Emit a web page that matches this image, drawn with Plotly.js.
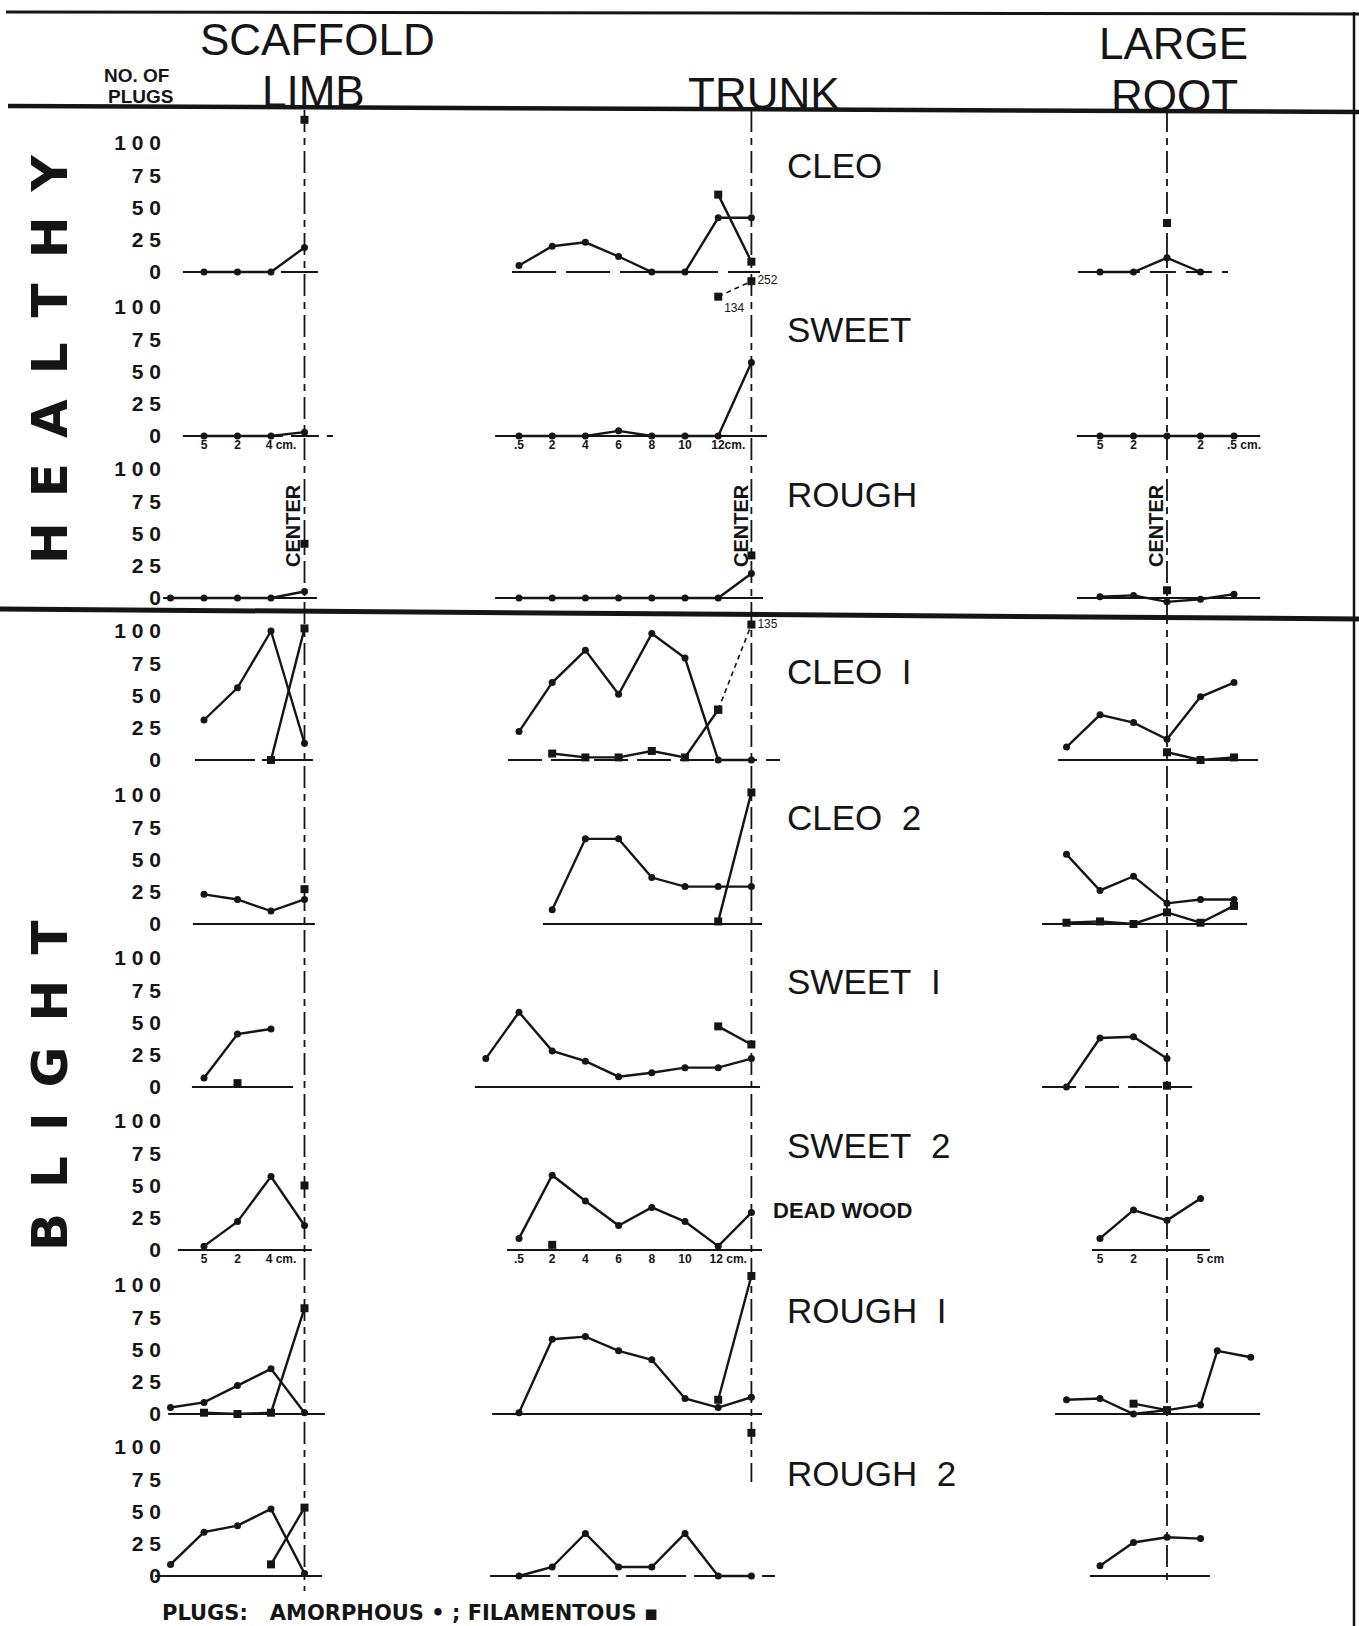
<!DOCTYPE html>
<html><head><meta charset="utf-8">
<script src="https://cdn.plot.ly/plotly-3.0.1.min.js"></script>
<style>html,body{margin:0;padding:0;background:#fff}#chart{width:1359px;height:1626px}</style>
</head><body><div id="chart"></div>
<script>
// ================= DATA =================
const columnTitles = ['SCAFFOLD', 'LIMB', 'TRUNK', 'LARGE', 'ROOT'];
const rowNames = ['CLEO', 'SWEET', 'ROUGH', 'CLEO I', 'CLEO 2', 'SWEET I', 'SWEET 2', 'ROUGH I', 'ROUGH 2'];
const groupNames = ['HEALTHY', 'BLIGHT'];
const yTickVals = [0, 25, 50, 75, 100];
const yTickText = ['0', '2 5', '5 0', '7 5', '1 0 0'];

// Sampling stations (index along each axis). Limb: 0=.5, 1=2, 2=4 cm, 3=centre.
// Trunk: 0=.5 ... 6=12 cm, 7=centre.  Root: 0=centre, negative/positive = either side.
const limbAmorX = [[0,1,2,3],[0,1,2,3],[-1,0,1,2,3],[0,1,2,3],[0,1,2,3],[0,1,2],[0,1,2,3],[-1,0,1,2,3],[-1,0,1,2,3]];
const limbAmorY = [[0,0,0,19],[0,0,0,3],[0,0,0,0,5],[31,56,100,13],[23,19,10,19],[7,41,45],[3,22,57,19],[5,9,22,35,1],[9,34,39,52,2]];
const limbFilX = [[3],[],[3],[2,3],[3],[1],[3],[0,1,2,3],[2,3]];
const limbFilY = [[118],[],[42],[0,102],[27],[3],[50],[1,0,1,82],[9,53]];

const trunkAmorX = [[0,1,2,3,4,5,6,7],[0,1,2,3,4,5,6,7],[0,1,2,3,4,5,6,7],[0,1,2,3,4,5,6,7],[1,2,3,4,5,6,7],[-1,0,1,2,3,4,5,6,7],[0,1,2,3,4,5,6,7],[0,1,2,3,4,5,6,7],[0,1,2,3,4,5,6,7]];
const trunkAmorY = [[5,20,23,12,0,0,42,42],[0,0,0,4,0,0,0,57],[0,0,0,0,0,0,0,19],[22,60,85,51,98,79,0,0],[11,66,66,36,29,29,29],[22,58,28,20,8,11,15,15,22],[9,58,38,19,33,22,3,29],[1,58,60,49,42,12,5,13],[0,7,33,7,7,33,0,0]];
const trunkFilX = [[6,7],[],[7],[1,2,3,4,5,6],[6,7],[6,7],[1],[6,7],[7]];
const trunkFilY = [[60,8],[],[33],[5,2,2,7,2,39],[2,102],[47,33],[4],[11,107],[111]];
// counts beyond the scale: drawn above the panel, joined by a dashed line, count written beside
const trunkOffX = [[],[6,7],[],[6,7],[],[],[],[],[]];
const trunkOffY = [[],[108,120],[],[39,105],[],[],[],[],[]];
const trunkOffLabel = [[],['134','252'],[],['','135'],[],[],[],[],[]];

const rootAmorX = [[-2,-1,0,1],[-2,-1,0,1,2],[-2,-1,0,1,2],[-3,-2,-1,0,1,2],[-3,-2,-1,0,1,2],[-3,-2,-1,0],[-2,-1,0,1],[-3,-2,-1,0,1,1.5,2.5],[-2,-1,0,1]];
const rootAmorY = [[0,0,11,0],[0,0,0,0,0],[1,2,-3,-1,3],[10,35,29,16,49,60],[54,26,37,16,19,19],[0,38,39,22],[9,31,23,40],[11,12,0,3,7,49,44],[8,26,30,29]];
const rootFilX = [[0],[],[0],[0,1,2],[-3,-2,-1,0,1,2],[0],[],[-1,0],[]];
const rootFilY = [[38],[],[6],[6,0,2],[1,2,0,9,1,14],[1],[],[8,3],[]];

// x tick labels (only under the SWEET and SWEET 2 rows)
const limbTickVals = [0,1,2];
const limbTickText = ['5','2','4 cm.'];
const trunkTickVals = [0,1,2,3,4,5,6];
const trunkTickText1 = ['.5','2','4','6','8','10','12cm.'];
const trunkTickText2 = ['.5','2','4','6','8','10','12 cm.'];
const rootTickVals1 = [-2,-1,1,2];
const rootTickText1 = ['5','2','2','.5 cm.'];
const rootTickVals2 = [-2,-1,1];
const rootTickText2 = ['5','2','5 cm'];

// ================= LAYOUT / STYLE =================
const W = 1359, H = 1626;
const X = p => p / W, Y = p => 1 - p / H;
const INK = '#151515';
const ROW_ZERO = [272, 436, 598, 760, 924, 1087, 1250, 1414, 1576];
const UNIT = 1.29, ABOVE = 162, BELOW = 30;
const COL = [
  {d0: 150, d1: 340, c0: 204, step: 33.5, center: 3, lineEnd: 1591},
  {d0: 470, d1: 790, c0: 519, step: 33.2, center: 7, lineEnd: 1482},
  {d0: 1030, d1: 1290, c0: 1167, step: 33.5, center: 0, lineEnd: 1582}
];
const BASE = [
  [[-0.63,3.4],[-0.63,3.85],[-1.22,3.37],[-0.27,3.25],[-0.33,3.31],[-0.36,2.66],[-0.78,3.22],[-1.07,3.61],[-1.46,3.52]],
  [[-0.21,7.26],[-0.72,7.47],[-0.72,7.35],[-0.33,7.86],[0.72,7.32],[-1.33,7.26],[-0.36,7.32],[-0.81,7.32],[-0.87,7.71]],
  [[-2.66,1.82],[-2.69,2.78],[-2.69,2.78],[-3.25,2.72],[-3.73,2.39],[-3.73,0.75],[-2.24,1.28],[-3.34,2.78],[-2.3,1.28]]
];
const BASE_DASH = [
  ['40px,9px','28px,8px','solid','60px,7px','solid','solid','solid','solid','solid'],
  ['44px,10px','solid','solid','34px,9px','solid','solid','solid','solid','60px,8px'],
  ['26px,10px','solid','solid','solid','solid','34px,9px','solid','solid','solid']
];
const FONT = 'Liberation Sans, Arial, sans-serif';
const HEAVY = 'DejaVu Sans, Liberation Sans, sans-serif';
const PAD_CM = '\u2007\u2007\u2007';   // keeps the number centred on its station when "cm." follows

const layout = {
  width: W, height: H, margin: {l: 0, r: 0, t: 0, b: 0},
  paper_bgcolor: '#ffffff', plot_bgcolor: 'rgba(0,0,0,0)', showlegend: false,
  font: {family: FONT, color: INK}, shapes: [], annotations: [], hovermode: false
};
const traces = [];
const axId = (r, c) => r * 3 + c + 1;
const xName = n => n === 1 ? 'x' : 'x' + n;
const yName = r => r === 0 ? 'y' : 'y' + (r + 1);
const xKey = n => n === 1 ? 'xaxis' : 'xaxis' + n;
const yKey = r => r === 0 ? 'yaxis' : 'yaxis' + (r + 1);
const padCm = arr => arr.map(t => /cm/.test(t) ? PAD_CM + t : t);

const tickRows = {
  1: [[limbTickVals, padCm(limbTickText)], [trunkTickVals, padCm(trunkTickText1)], [rootTickVals1, padCm(rootTickText1)]],
  6: [[limbTickVals, padCm(limbTickText)], [trunkTickVals, padCm(trunkTickText2)], [rootTickVals2, padCm(rootTickText2)]]
};

for (let r = 0; r < 9; r++) {
  const z = ROW_ZERO[r];
  layout[yKey(r)] = {
    domain: [Y(z + BELOW), Y(z - ABOVE)], range: [-BELOW / UNIT, ABOVE / UNIT],
    anchor: 'free', position: X(161), showgrid: false, zeroline: false, showline: false,
    ticks: '', tickvals: yTickVals, ticktext: yTickText, fixedrange: true,
    tickfont: {family: FONT, size: 21, color: INK, weight: 700}
  };
  for (let c = 0; c < 3; c++) {
    const s = COL[c], n = axId(r, c);
    const ax = {
      domain: [X(s.d0), X(s.d1)], range: [(s.d0 - s.c0) / s.step, (s.d1 - s.c0) / s.step],
      showgrid: false, zeroline: false, showline: false, ticks: '', fixedrange: true
    };
    if (tickRows[r]) {
      ax.anchor = 'free'; ax.position = Y(z); ax.showticklabels = true;
      ax.tickvals = tickRows[r][c][0]; ax.ticktext = tickRows[r][c][1];
      ax.tickfont = {family: FONT, size: 12, color: INK, weight: 700};
      ax.tickangle = 0;
    } else {
      ax.anchor = yName(r); ax.showticklabels = false;
    }
    layout[xKey(n)] = ax;
    // panel baseline (zero line of the panel)
    layout.shapes.push({type: 'line', layer: 'below', xref: xName(n), yref: yName(r),
      x0: BASE[c][r][0], x1: BASE[c][r][1], y0: 0, y1: 0,
      line: {color: INK, width: 1.8, dash: BASE_DASH[c][r]}});
  }
}

function addSeries(r, c, xs, ys, symbol, size) {
  if (!xs.length) return;
  traces.push({type: 'scatter', mode: 'lines+markers', x: xs, y: ys,
    xaxis: xName(axId(r, c)), yaxis: yName(r), cliponaxis: false,
    line: {color: INK, width: 2.4}, marker: {symbol, size, color: INK},
    name: symbol === 'circle' ? 'AMORPHOUS' : 'FILAMENTOUS', hoverinfo: 'skip'});
}
for (let r = 0; r < 9; r++) {
  addSeries(r, 0, limbAmorX[r], limbAmorY[r], 'circle', 7);
  addSeries(r, 0, limbFilX[r], limbFilY[r], 'square', 8);
  addSeries(r, 1, trunkAmorX[r], trunkAmorY[r], 'circle', 7);
  addSeries(r, 1, trunkFilX[r], trunkFilY[r], 'square', 8);
  addSeries(r, 2, rootAmorX[r], rootAmorY[r], 'circle', 7);
  addSeries(r, 2, rootFilX[r], rootFilY[r], 'square', 8);
  if (trunkOffX[r].length) {
    const ys = trunkOffY[r];
    traces.push({type: 'scatter', mode: 'lines+markers+text', x: trunkOffX[r], y: ys,
      xaxis: xName(axId(r, 1)), yaxis: yName(r), cliponaxis: false,
      text: trunkOffLabel[r],
      textposition: ys.map(v => v === Math.min(...ys) && trunkOffLabel[r][ys.indexOf(v)] !== '' ? 'bottom right' : 'middle right'),
      textfont: {family: FONT, size: 12, color: INK},
      line: {color: INK, width: 1.6, dash: '5px,4px'}, marker: {symbol: 'square', size: 8, color: INK},
      hoverinfo: 'skip', name: 'FILAMENTOUS'});
  }
}

// centre lines of each column
COL.forEach((s, c) => {
  layout.shapes.push({type: 'line', layer: 'below', xref: xName(axId(0, c)), yref: 'paper',
    x0: s.center, x1: s.center, y0: Y(110), y1: Y(s.lineEnd),
    line: {color: INK, width: 1.8, dash: '22px,6px,7px,6px'}});
});
// frame and rules
const rule = (x0, y0, x1, y1, w) => layout.shapes.push({type: 'line', xref: 'paper', yref: 'paper',
  x0: X(x0), y0: Y(y0), x1: X(x1), y1: Y(y1), line: {color: INK, width: w}});
rule(6, 12, 1359, 14, 3);
rule(1354, 12, 1354, 1626, 2.5);
rule(8, 106, 1359, 112, 4.5);
rule(0, 609, 1359, 619, 5);

function note(text, xpx, ypx, size, family, extra) {
  layout.annotations.push(Object.assign({text, xref: 'paper', yref: 'paper', x: X(xpx), y: Y(ypx),
    showarrow: false, xanchor: 'center', yanchor: 'middle', borderpad: 0,
    font: {family, size, color: INK}}, extra || {}));
}
// column titles (two-line titles stacked so that the lines just touch)
note(columnTitles[0], 317, 65.5, 44, FONT, {yanchor: 'bottom'});
note(columnTitles[1], 313, 66.5, 44, FONT, {yanchor: 'top'});
note(columnTitles[2], 764, 93, 44, FONT);
note(columnTitles[3], 1173, 68.5, 44, FONT, {yanchor: 'bottom'});
note(columnTitles[4], 1174, 69.5, 44, FONT, {yanchor: 'top'});
note('NO. OF', 136, 75, 19, FONT, {font: {family: FONT, size: 19, color: INK, weight: 700}});
note('PLUGS', 140, 97, 19, FONT, {font: {family: FONT, size: 19, color: INK, weight: 700}});
// row names
const ROW_LABEL_Y = [166, 329, 494, 672, 818, 981, 1145, 1310, 1473];
rowNames.forEach((t, i) => note(t.replace(' ', '\u00a0\u00a0'), 786, ROW_LABEL_Y[i], 35, FONT, {xanchor: 'left'}));
// group names
const spaced = t => t.split('').join('\u2002');
note(spaced(groupNames[0]), 50, 359, 50, HEAVY, {textangle: -90, font: {family: HEAVY, size: 50, color: INK, weight: 700}});
note(spaced(groupNames[1]), 50, 1086, 50, HEAVY, {textangle: -90, font: {family: HEAVY, size: 50, color: INK, weight: 700}});
// centre markers
[293, 741, 1156].forEach(xp => note('CENTER', xp, 526, 20, FONT, {textangle: -90, font: {family: FONT, size: 20, color: INK, weight: 700}}));
note('DEAD WOOD', 842, 1210, 22, FONT, {font: {family: FONT, size: 22, color: INK, weight: 700}});
note('PLUGS:\u00a0\u00a0 AMORPHOUS \u2022 ; FILAMENTOUS \u25aa', 161, 1613, 21, HEAVY,
  {xanchor: 'left', font: {family: HEAVY, size: 21, color: INK, weight: 700}});

Plotly.newPlot('chart', traces, layout, {staticPlot: true, displayModeBar: false});
</script>
</body></html>
